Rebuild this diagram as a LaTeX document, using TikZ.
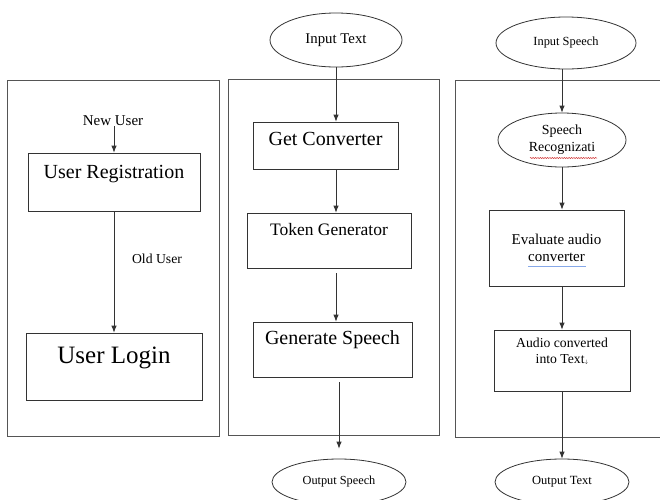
\documentclass[tikz,border=0pt]{standalone}
\usepackage{fontspec}
\setmainfont{Liberation Serif}
\usetikzlibrary{shapes.geometric,arrows.meta,decorations.pathmorphing}

\definecolor{linegray}{HTML}{333333}
\definecolor{panelgray}{HTML}{555555}
\definecolor{spellred}{HTML}{D23A3A}
\definecolor{grammarblue}{HTML}{86A8E8}

\newcommand{\fsz}[2]{\fontsize{#1}{#2}\selectfont}

\tikzset{
    panel/.style={draw=panelgray, line width=0.9pt},
    stepbox/.style={draw=linegray, line width=0.8pt, rectangle, inner sep=0pt},
    oval/.style={draw=linegray, line width=0.8pt, ellipse, inner sep=0pt},
    flow/.style={draw=linegray, line width=0.8pt, -{Latex[length=7pt,width=5.5pt]}},
    plain/.style={inner sep=0pt}
}

\begin{document}
\begin{tikzpicture}[x=1pt, y=-1pt]
    \useasboundingbox (0,0) rectangle (660,499);

    % the three panels
    \draw[panel] (7,80) rectangle (219,436);
    \draw[panel] (228,79) rectangle (439,435);
    \draw[panel] (455,80) rectangle (700,437);

    % login
    \node[plain, font=\fsz{15}{18}] (newuser) at (113,121) {New User};
    \node[stepbox, minimum width=172, minimum height=58, text height=25.6pt,
      text depth=32.4pt, font=\fsz{20}{24}] (reg) at (114,182) {User Registration};
    \node[plain, font=\fsz{13.7}{16}] (olduser) at (157,259) {Old User};
    \node[stepbox, minimum width=176, minimum height=67, text height=30.3pt,
      text depth=36.7pt, font=\fsz{25}{30}] (login) at (114,366.5) {User Login};
    \draw[flow] (newuser.south -| reg) -- (reg.north);
    \draw[flow] (reg) -- (login);

    % text to speech
    \node[oval, minimum width=132, minimum height=54, font=\fsz{14.8}{17}] (intext)
      at (336,40) {Input Text};
    \node[stepbox, minimum width=145, minimum height=47, text height=23.6pt,
      text depth=23.4pt, font=\fsz{20}{24}] (getconv) at (325.5,145.5) {Get Converter};
    \node[stepbox, minimum width=164, minimum height=55, text height=22.8pt,
      text depth=32.2pt, font=\fsz{17.5}{21}] (token) at (329,240.5) {Token Generator};
    \node[stepbox, minimum width=159, minimum height=55, text height=22.6pt,
      text depth=32.4pt, font=\fsz{20}{24}] (gen) at (332.5,349.5) {Generate Speech};
    \node[oval, minimum width=134, minimum height=46, font=\fsz{12.3}{15}] (outspeech)
      at (339,482) {Output Speech};
    \draw[flow] (intext.south) -- (intext.south |- getconv.north);
    \draw[flow] (getconv.south -| intext) -- (token.north -| intext);
    \draw[flow, shorten <=5pt] (token.south -| intext) -- (gen.north -| intext);
    \draw[flow, shorten <=5pt, shorten >=10pt] (gen.south -| outspeech) -- (outspeech.north);

    % speech to text
    \node[oval, minimum width=140, minimum height=52, font=\fsz{12.4}{15}] (inspeech)
      at (566,43) {Input Speech};
    \node[oval, minimum width=128, minimum height=54, align=center,
      font=\fsz{13.9}{17}] (recog) at (562,140) {Speech\\Recognizati};
    \node[stepbox, minimum width=135, minimum height=76, align=center,
      font=\fsz{15}{17}] (eval) at (556.5,248) {Evaluate audio\\converter};
    \node[stepbox, minimum width=136, minimum height=61, text height=17.5pt,
      text depth=43.5pt, font=\fsz{13.7}{16}] (audio) at (562,360.5)
      {\begin{tabular}[t]{@{}c@{}}Audio converted\\into Text{\tiny$\downarrow$}\end{tabular}};
    \node[oval, minimum width=134, minimum height=46, font=\fsz{12.5}{15}] (outtext)
      at (562,482) {Output Text};
    \draw[flow] (inspeech.south -| recog) -- (recog.north);
    \draw[flow] (recog.south) -- (recog.south |- eval.north);
    \draw[flow] (eval.south -| recog) -- (audio.north -| recog);
    \draw[flow] (audio.south -| outtext) -- (outtext.north);

    % checker marks under two words
    \draw[spellred, line width=0.5pt, decorate,
      decoration={snake, amplitude=0.6pt, segment length=2.4pt}]
      ([shift={(-32,18)}]recog.center) -- ([shift={(35,18)}]recog.center);
    \draw[grammarblue, line width=1pt]
      ([shift={(-28.5,18.5)}]eval.center) -- ([shift={(29.5,18.5)}]eval.center);
\end{tikzpicture}
\end{document}
